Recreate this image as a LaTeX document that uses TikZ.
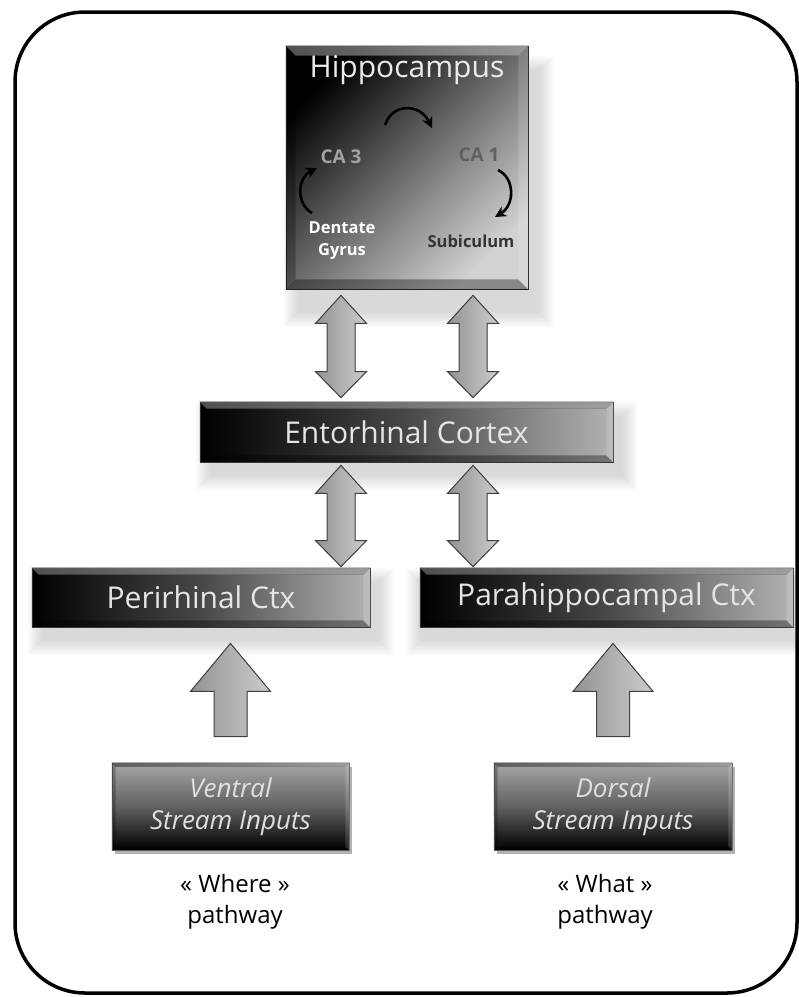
\documentclass[tikz,border=0pt]{standalone}
\usepackage{fontspec}
\setmainfont{Open Sans}
\usetikzlibrary{calc,arrows.meta}
\pgfdeclarelayer{bg}
\pgfsetlayers{bg,main}
\newcommand\softshadow[3]{%
  \begin{pgfonlayer}{bg}
  \foreach \e in {0,2,4,6,8,10,12,14}{%
    \fill[black,opacity=0.02] ($(#1.north west)+(#2,#3)+(-\e,-\e)$) rectangle ($(#1.south east)+(#2,#3)+(\e,\e)$);}
  \end{pgfonlayer}}
\newcommand\bevel[2]{%
  \fill[left color=black!55, right color=white!80!black, opacity=0.7] (#1.north west) -- (#1.north east) -- ($(#1.north east)+(-#2,#2)$) -- ($(#1.north west)+(#2,#2)$) -- cycle;
  \fill[black, opacity=0.35] (#1.south west) -- (#1.south east) -- ($(#1.south east)+(-#2,-#2)$) -- ($(#1.south west)+(#2,-#2)$) -- cycle;
  \fill[white, opacity=0.15] (#1.north east) -- (#1.south east) -- ($(#1.south east)+(-#2,-#2)$) -- ($(#1.north east)+(-#2,#2)$) -- cycle;
  \fill[black, opacity=0.25] (#1.north west) -- (#1.south west) -- ($(#1.south west)+(#2,-#2)$) -- ($(#1.north west)+(#2,#2)$) -- cycle;
}
\newcommand\fatdouble[2]{%
  \filldraw[fatarrow] (#1) -- ++(25.5,28) -- ++(-11.5,0) -- ($(#2)+(14,-26)$) -- ++(11.5,0) -- (#2) -- ++(-25.5,-26) -- ++(11.5,0) -- ($(#1)+(-14,28)$) -- ++(-11.5,0) -- cycle;}
\newcommand\fatup[2]{%
  \filldraw[fatarrow] (#1) -- ++(40,48) -- ++(-23.5,0) -- ($(#2)+(16.5,0)$) -- ($(#2)+(-16.5,0)$) -- ($(#1)+(-16.5,48)$) -- ++(-23.5,0) -- cycle;}
\tikzset{
  barbox/.style={draw=black!75, line width=0.8pt, inner sep=0pt, left color=black, right color=gray!60, middle color=black!72, text=white!90!black, font=\fontsize{30}{36}\selectfont},
  inbox/.style={draw=black!60, line width=0.6pt, inner sep=0pt, top color=gray!70, bottom color=black, middle color=black!62, text=white!88!black, font=\fontsize{26}{32}\selectfont\itshape, align=center},
  hipbox/.style={draw=black!85, line width=0.8pt, inner sep=0pt, top color=black, bottom color=gray!35, middle color=black!58, shading angle=45},
  fatarrow/.style={draw=black!75, line width=1pt, line join=miter, left color=gray!85, right color=gray!40},
  curv/.style={line width=2.6pt, -{Stealth[length=11pt,width=11pt]}},
  lab/.style={font=\fontsize{24}{31}\selectfont, align=center},
}
\begin{document}
\begin{tikzpicture}[x=1pt,y=-1pt]
\useasboundingbox (0,0) rectangle (799,997);
\draw[line width=3.5pt, rounded corners=70pt] (15,12) rectangle (797,993);
% hippocampus
\node[hipbox, minimum width=242pt, minimum height=243pt] (hip) at (407,167.5) {};
\bevel{hip}{10}
\node[text=white!92!black, font=\fontsize{30}{36}\selectfont] (hiptitle) at (407,70) {Hippocampus};
\node[font=\bfseries\fontsize{19}{22}\selectfont, text=gray!72] (ca3) at (341,157) {CA 3};
\node[font=\bfseries\fontsize{19}{22}\selectfont, text=black!62] (ca1) at (479,155) {CA 1};
\node[font=\bfseries\fontsize{16.5}{22}\selectfont, text=white, align=center] (dg) at (342,241) {Dentate\\Gyrus};
\node[font=\bfseries\fontsize{16.5}{22}\selectfont, text=black!80] (sub) at (471,241) {Subiculum};
\coordinate (a1) at (385,125); \coordinate (a2) at (432,128);
\coordinate (b1) at (312,213); \coordinate (b2) at (317,168);
\coordinate (c1) at (498,170); \coordinate (c2) at (495,217);
\draw[curv] (a1) .. controls (392,103) and (420,103) .. (a2);
\draw[curv] (b1) .. controls (296,204) and (297,178) .. (b2);
\draw[curv] (c1) .. controls (515,178) and (515,205) .. (c2);
% bars
\node[barbox, minimum width=413pt, minimum height=60pt] (ent) at (406.5,432) {Entorhinal Cortex};
\node[barbox, minimum width=338pt, minimum height=59pt] (peri) at (201,597.5) {Perirhinal Ctx};
\node[barbox, minimum width=373pt, minimum height=59pt] (para) at (606.5,597.5) {Parahippocampal Ctx};
\bevel{ent}{7}\bevel{peri}{7}\bevel{para}{7}
\node[inbox, minimum width=237pt, minimum height=87pt] (ven) at (230.5,806.5) {Ventral\\Stream Inputs};
\node[inbox, minimum width=238pt, minimum height=87pt] (dor) at (613,806.5) {Dorsal\\Stream Inputs};
\bevel{ven}{4}\bevel{dor}{4}
\node[lab] (where) at (235,902) {« Where »\\pathway};
\node[lab] (what) at (605,902) {« What »\\pathway};
% shadows
\softshadow{hip}{12}{24}
\softshadow{ent}{10}{14}
\softshadow{peri}{10}{14}
\softshadow{para}{0}{14}
\begin{pgfonlayer}{bg}
\fill[black,opacity=.3] ($(ven.north west)+(3,4)$) rectangle ($(ven.south east)+(3,4)$);
\fill[black,opacity=.3] ($(dor.north west)+(3,4)$) rectangle ($(dor.south east)+(3,4)$);
\end{pgfonlayer}
% arrows
\coordinate (xL) at (341,0); \coordinate (xR) at (473,0);
\coordinate (u1t) at ($(hip.south -| xL)+(0,6)$);
\coordinate (u1b) at ($(ent.north -| xL)+(0,-4)$);
\coordinate (u2t) at ($(hip.south -| xR)+(0,6)$);
\coordinate (u2b) at ($(ent.north -| xR)+(0,-4)$);
\coordinate (l1t) at ($(ent.south -| xL)+(0,3)$);
\coordinate (l1b) at ($(peri.north -| xL)+(0,-1)$);
\coordinate (l2t) at ($(ent.south -| xR)+(0,3)$);
\coordinate (l2b) at ($(para.north -| xR)+(0,-1)$);
\fatdouble{u1t}{u1b}
\fatdouble{u2t}{u2b}
\fatdouble{l1t}{l1b}
\fatdouble{l2t}{l2b}
\coordinate (s1t) at ($(peri.south -| ven.north)+(0,16)$);
\coordinate (s1b) at ($(ven.north)+(0,-26)$);
\coordinate (s2t) at ($(para.south -| dor.north)+(0,16)$);
\coordinate (s2b) at ($(dor.north)+(0,-26)$);
\fatup{s1t}{s1b}
\fatup{s2t}{s2b}
\end{tikzpicture}
\end{document}
